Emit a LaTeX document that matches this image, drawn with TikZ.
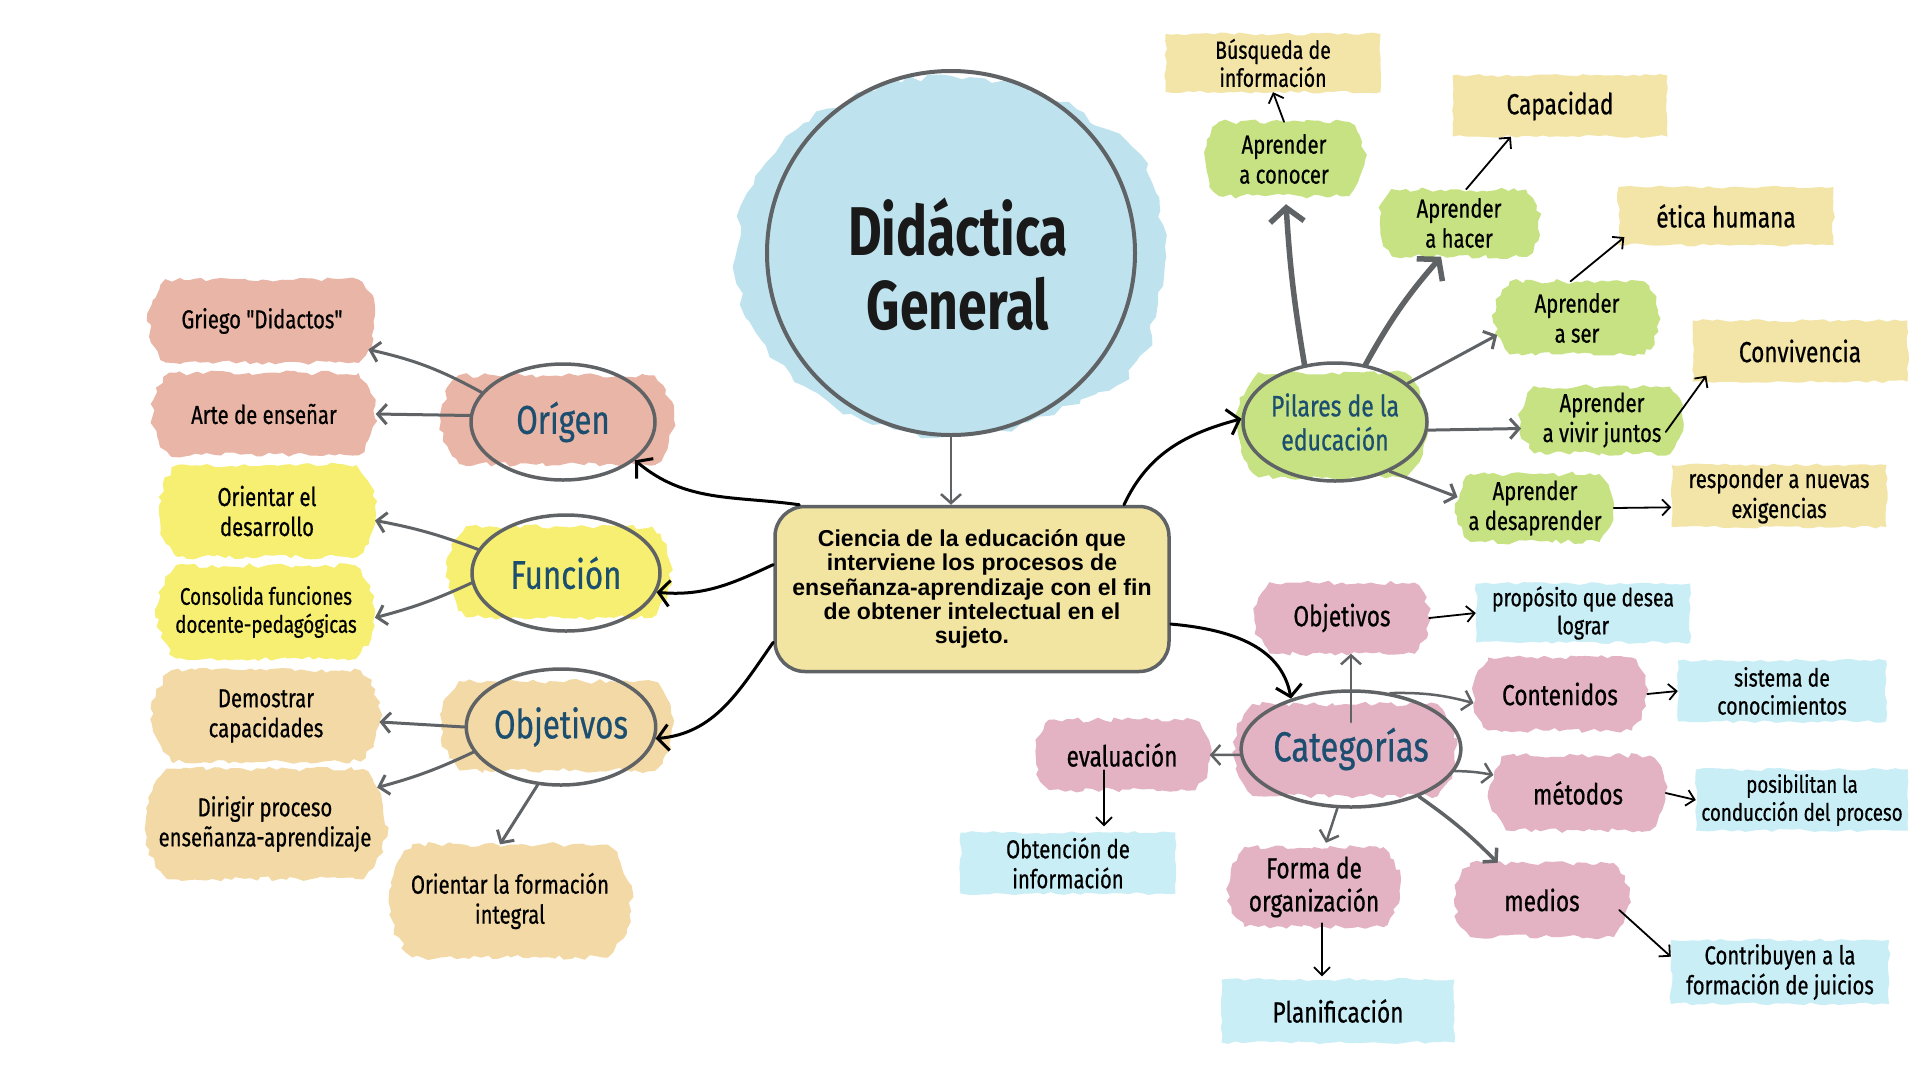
\documentclass[tikz,border=0pt]{standalone}
\usepackage{fontspec}
\setmainfont{Fira Sans}[FakeStretch=0.78, FakeBold=0.6]
\setmonofont{Fira Sans}[FakeStretch=0.78, FakeBold=0.6]
\newfontfamily\titlefont{Fira Sans}[FakeStretch=0.75]
\newfontfamily\arialfont{Liberation Sans}
\newcommand{\dq}{{\ttfamily"}}
\usetikzlibrary{shapes.geometric,shapes.misc,arrows.meta,decorations.pathmorphing,calc}
\definecolor{pinkA}{HTML}{E9B5A6}
\definecolor{yellowA}{HTML}{F6EF72}
\definecolor{orangeA}{HTML}{F2D9A6}
\definecolor{greenA}{HTML}{C6E282}
\definecolor{beigeA}{HTML}{F3E5A8}
\definecolor{mauveA}{HTML}{E3B3C4}
\definecolor{blueA}{HTML}{C9EEF6}
\definecolor{waterA}{HTML}{BFE3EE}
\definecolor{boxA}{HTML}{F2E4A1}
\definecolor{lgray}{HTML}{606366}
\definecolor{tealA}{HTML}{1C4E70}
\begin{document}
\begin{tikzpicture}[x=1pt,y=-1pt,
  f24/.style={font=\fontsize{24}{28}\selectfont},
  f25/.style={font=\fontsize{25}{28}\selectfont},
  f26/.style={font=\fontsize{26}{30}\selectfont},
  f29/.style={font=\fontsize{29}{33}\selectfont},
  blob/.style={shape=rounded rectangle, rounded rectangle arc length=90, fill=#1, inner sep=0pt,
    decorate, decoration={random steps,segment length=6pt,amplitude=2.5pt},
    align=center, text=black},
  rct/.style={shape=rectangle, fill=#1, inner sep=0pt, decorate,
    decoration={random steps,segment length=7pt,amplitude=1.5pt},
    align=center, text=black},
  ell/.style={ellipse, draw=lgray, line width=3.5pt, inner sep=0pt, text=tealA,
    font=\fontsize{40}{46}\selectfont, align=center},
  water/.style={ellipse, fill=waterA, inner sep=0pt,
    decorate, decoration={random steps,segment length=10pt,amplitude=4pt}},
  garr/.style={draw=lgray, line width=3pt, line cap=round, -{Straight Barb[length=9pt,width=20pt]}},
  bigarr/.style={draw=lgray, line width=5.5pt, line cap=round, -{Straight Barb[length=14pt,width=34pt]}},
  barr/.style={draw=black, line width=3pt, line cap=round, -{Straight Barb[length=11pt,width=26pt]}},
  tarr/.style={draw=black, line width=1.8pt, line cap=round, -{Straight Barb[length=8pt,width=16pt]}}
]
\pgfmathsetseed{7}
\useasboundingbox (0,0) rectangle (1920,1080);
\fill[white] (0,0) rectangle (1920,1080);

% ---------- centre ----------
\node[water, minimum width=430, minimum height=360] (circbg) at (951,256) {};
\node[water, minimum width=200, minimum height=190, rotate=20] (circbgb) at (850,255) {};
\node[water, minimum width=200, minimum height=180] (circbgc) at (1060,210) {};
\node[water, minimum width=220, minimum height=150] (circbgd) at (1040,330) {};
\node[ellipse, draw=lgray, line width=4pt, minimum width=368, minimum height=364, inner sep=0pt] (circ) at (951,253) {};
\node[align=center, font=\titlefont\bfseries\fontsize{69}{74}\selectfont, text=black!90] (title) at (958,264) {Didáctica\\General};
\node[draw=lgray, line width=3.5pt, fill=boxA, rounded corners=30pt, minimum width=394, minimum height=165,
  inner sep=0pt, align=center, font=\arialfont\bfseries\fontsize{23}{24.3}\selectfont] (box) at (972,589)
  {Ciencia de la educación que\\interviene los procesos de\\enseñanza-aprendizaje con el fin\\de obtener intelectual en el\\sujeto.};
\draw[garr, line width=2.5pt] (circ.south) -- (box.north -| circ.south);

% ---------- left ----------
\node[blob=pinkA, minimum width=232, minimum height=89] (origenbg) at (557,420) {};
\node[blob=yellowA, minimum width=224, minimum height=91] (funcbg) at (559,572) {};
\node[blob=orangeA, minimum width=232, minimum height=89] (objlbg) at (557,726) {};
\node[ell, minimum width=184, minimum height=116] (origen) at (563,422) {Orígen};
\node[ell, minimum width=188, minimum height=116] (funcion) at (566,573) {Función};
\node[ell, minimum width=184, minimum height=116] (objl) at (561,727) {Objetivos};

\node[blob=pinkA, f26, minimum width=227, minimum height=83] (griego) at (262,321) {Griego \dq Didactos\dq};
\node[blob=pinkA, f26, minimum width=223, minimum height=82] (arte) at (264,414) {Arte de enseñar};
\node[blob=yellowA, f26, minimum width=217, minimum height=92] (orientar) at (267,511) {Orientar el\\desarrollo};
\node[blob=yellowA, f24, minimum width=218, minimum height=93] (consolida) at (266,612) {Consolida funciones\\docente-pedagógicas};
\node[blob=orangeA, f26, minimum width=227, minimum height=91] (demostrar) at (266,716) {Demostrar\\capacidades};
\node[blob=orangeA, f26, minimum width=242, minimum height=110] (dirigir) at (265,824) {Dirigir proceso\\enseñanza-aprendizaje};
\node[blob=orangeA, f26, minimum width=242, minimum height=113] (orform) at (510,901) {Orientar la formación\\integral};

\draw[garr] (origen.160) to[bend right=8] (griego.-15);
\draw[garr] (origen.176) -- (arte.east);
\draw[garr] (funcion.165) to[bend right=5] (orientar.-5);
\draw[garr] (funcion.186) to[bend left=5] (consolida.-3);
\draw[garr] (objl.180) -- (demostrar.-3);
\draw[garr] (objl.196) to[bend left=5] (dirigir.18);
\draw[garr] (objl.-112) -- (orform.100);

\draw[barr] (box.154) to[out=172,in=-40] (origen.-28);
\draw[barr] (box.173) to[out=205,in=-5] (funcion.-12);
\draw[barr] (box.195) to[out=235,in=5] (objl.-7);

% ---------- pilares ----------
\node[blob=greenA, minimum width=190, minimum height=105] (pilbg) at (1332,425) {};
\node[ell, font=\fontsize{29.5}{34}\selectfont, minimum width=184, minimum height=118] (pilares) at (1335,422) {Pilares de la\\educación};
\draw[barr] (box.29) to[out=65,in=195] (pilares.178);

\node[blob=greenA, f26, minimum width=161, minimum height=74] (conocer) at (1284,159) {Aprender\\a conocer};
\node[blob=greenA, f26, minimum width=162, minimum height=67] (hacer) at (1459,223) {Aprender\\a hacer};
\node[blob=greenA, f26, minimum width=165, minimum height=73] (ser) at (1577,318) {Aprender\\a ser};
\node[blob=greenA, f26, minimum width=163, minimum height=67] (vivir) at (1602,420) {Aprender\\a vivir juntos};
\node[blob=greenA, f26, minimum width=157, minimum height=68] (desap) at (1535,508) {Aprender\\a desaprender};

\node[rct=beigeA, f25, minimum width=215, minimum height=58] (busq) at (1273,63) {Búsqueda de\\información};
\node[rct=beigeA, f29, minimum width=215, minimum height=61] (capac) at (1560,106) {Capacidad};
\node[rct=beigeA, f29, minimum width=215, minimum height=58] (etica) at (1726,216) {ética humana};
\node[rct=beigeA, f29, minimum width=215, minimum height=61] (conviv) at (1800,351) {Convivencia};
\node[rct=beigeA, f26, minimum width=215, minimum height=62] (resp) at (1779,496) {responder a nuevas\\exigencias};

\draw[bigarr] (pilares.118) to[bend left=3] ($(conocer.south)+(2,8)$);
\draw[bigarr] (pilares.62) to[bend left=6] (hacer.-118);
\draw[garr] (pilares.28) -- (ser.192);
\draw[garr] (pilares.-5) -- (vivir.186);
\draw[garr] (pilares.-42) -- (desap.172);

\draw[tarr] (conocer.north) -- (busq.south);
\draw[tarr] (hacer.78) -- (capac.-148);
\draw[tarr] (ser.100) -- ($(etica.south west)+(6,-8)$);
\draw[tarr] ($(vivir.east)+(-18,12)$) -- ($(conviv.south west)+(14,-6)$);
\draw[tarr] (desap.east) -- (resp.186);

% ---------- categorias ----------
\node[blob=mauveA, minimum width=223, minimum height=92] (catbg) at (1345,750) {};
\node[ell, font=\fontsize{42}{46}\selectfont, minimum width=184, minimum height=116] (cat) at (1351,749) {Categorías};
\draw[barr] (box.-10) to[out=-5,in=100] (cat.140);

\node[blob=mauveA, f29, minimum width=174, minimum height=71] (objr) at (1342,618) {Objetivos};
\node[blob=mauveA, f29, minimum width=174, minimum height=73] (conten) at (1560,694) {Contenidos};
\node[blob=mauveA, f29, minimum width=175, minimum height=75] (metodos) at (1578,793) {métodos};
\node[blob=mauveA, f29, minimum width=174, minimum height=74] (medios) at (1542,900) {medios};
\node[blob=mauveA, f29, minimum width=172, minimum height=80] (forma) at (1314,887) {Forma de\\organización};
\node[blob=mauveA, f29, minimum width=175, minimum height=70] (evalu) at (1122,755) {evaluación};

\node[rct=blueA, f25, minimum width=214, minimum height=59] (prop) at (1583,613) {propósito que desea\\lograr};
\node[rct=blueA, f25, minimum width=208, minimum height=61] (sist) at (1782,691) {sistema de\\conocimientos};
\node[rct=blueA, f24, minimum width=212, minimum height=61] (posib) at (1802,800) {posibilitan la\\conducción del proceso};
\node[rct=blueA, f26, minimum width=218, minimum height=64] (contrib) at (1780,972) {Contribuyen a la\\formación de juicios};
\node[rct=blueA, f29, minimum width=233, minimum height=63] (planif) at (1338,1011) {Planificación};
\node[rct=blueA, f26, minimum width=215, minimum height=61] (obt) at (1068,863) {Obtención de\\información};

\draw[garr, line width=2.5pt] ($(cat.center)!0.45!(cat.north)$) -- (objr.south -| cat.center);
\draw[garr, line width=2.5pt] (cat.55) to[bend left=8] (conten.186);
\draw[garr, line width=2.5pt] (cat.-12) to[bend left=5] (metodos.168);
\draw[garr, line width=3.5pt] (cat.-35) to[bend left=5] (medios.140);
\draw[garr, line width=2.5pt] (cat.-103) -- ($(forma.north)+(12,-4)$);
\draw[garr, line width=2.5pt] (cat.183) -- (evalu.east);

\draw[tarr] (objr.east) -- (prop.west);
\draw[tarr] (conten.east) -- (sist.west);
\draw[tarr] (metodos.east) -- (posib.west);
\draw[tarr] ($(medios.east)+(-10,10)$) -- (contrib.172);
\draw[tarr] ($(forma.south)+(8,-4)$) -- ($(forma.south |- planif.north)+(8,-3)$);
\draw[tarr] ($(evalu.south)+(-18,-20)$) -- ($(evalu.south |- obt.north)+(-18,-6)$);
\end{tikzpicture}
\end{document}
